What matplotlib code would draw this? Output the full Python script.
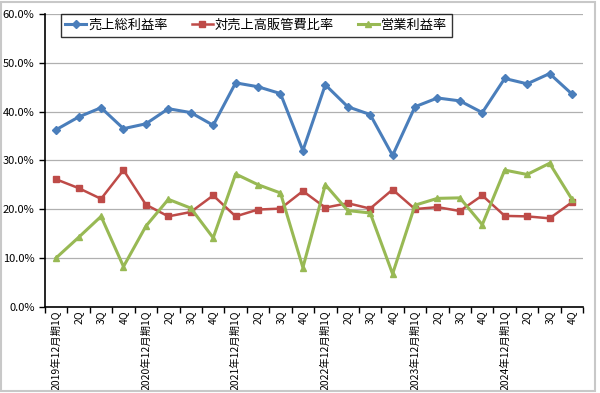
import matplotlib.pyplot as plt
from matplotlib.ticker import FuncFormatter, FixedLocator
from matplotlib.patches import Rectangle

plt.rcParams['font.family'] = ['Noto Sans CJK JP', 'DejaVu Sans']

## data (percent)
labels = []
for yr in range(2019, 2025):
    labels += [str(yr) + "年12月期1Q", "2Q", "3Q", "4Q"]

gross = [36.3, 38.9, 40.8, 36.5, 37.5, 40.6, 39.8, 37.2,
         45.9, 45.1, 43.7, 32.0, 45.5, 41.0, 39.4, 31.0,
         41.0, 42.8, 42.2, 39.8, 46.8, 45.7, 47.8, 43.6]
sga = [26.1, 24.3, 22.1, 28.0, 20.9, 18.5, 19.4, 22.8,
       18.5, 19.9, 20.1, 23.7, 20.3, 21.2, 20.1, 24.0,
       20.0, 20.4, 19.6, 22.8, 18.6, 18.5, 18.1, 21.4]
op = [10.0, 14.2, 18.5, 8.2, 16.5, 22.0, 20.2, 14.1,
      27.2, 25.0, 23.3, 8.0, 25.0, 19.7, 19.2, 6.7,
      20.8, 22.2, 22.3, 16.8, 28.0, 27.1, 29.4, 22.0]

x = list(range(len(labels)))

fig = plt.figure(figsize=(6, 3.93), dpi=100)
ax = fig.add_axes([0.075, 0.22, 0.897, 0.744])

ax.plot(x, gross, color='#4a7ebb', lw=2.2, marker='D', ms=4, label='売上総利益率')
ax.plot(x, sga, color='#be4b48', lw=1.8, marker='s', ms=5, label='対売上高販管費比率')
ax.plot(x, op, color='#98b954', lw=2.2, marker='^', ms=5, label='営業利益率')

ax.set_ylim(0, 60)
ax.set_xlim(-0.5, len(labels) - 0.5)
ax.set_yticks(range(0, 61, 10))
ax.yaxis.set_major_formatter(FuncFormatter(lambda v, p: "%.1f%%" % v))
ax.grid(axis='y', color='#b0b0b0', lw=0.9)
ax.set_axisbelow(True)

ax.set_xticks(x)
ax.set_xticklabels(labels, rotation=90, fontsize=7.5)
ax.tick_params(axis='x', which='major', length=0, pad=3)
ax.xaxis.set_minor_locator(FixedLocator([i - 0.5 for i in range(len(labels) + 1)]))
ax.tick_params(axis='x', which='minor', length=4, width=1)
ax.tick_params(axis='y', labelsize=8, length=4, width=1)

for s in ['top', 'right']:
    ax.spines[s].set_visible(False)
ax.spines['left'].set_linewidth(1.2)
ax.spines['bottom'].set_linewidth(1.2)

leg = fig.legend(loc='upper left', bbox_to_anchor=(0.09, 0.98), ncol=3,
                 fontsize=9.5, frameon=True, fancybox=False, edgecolor='black',
                 handlelength=1.6, handletextpad=0.15, columnspacing=1.8,
                 borderpad=0.35)
leg.get_frame().set_linewidth(1.0)

fig.patches.append(Rectangle((0.002, 0.005), 0.99, 0.99, transform=fig.transFigure,
                             fill=False, edgecolor='#c8c8c8', lw=1.5))

plt.savefig('out.png', dpi=100)
